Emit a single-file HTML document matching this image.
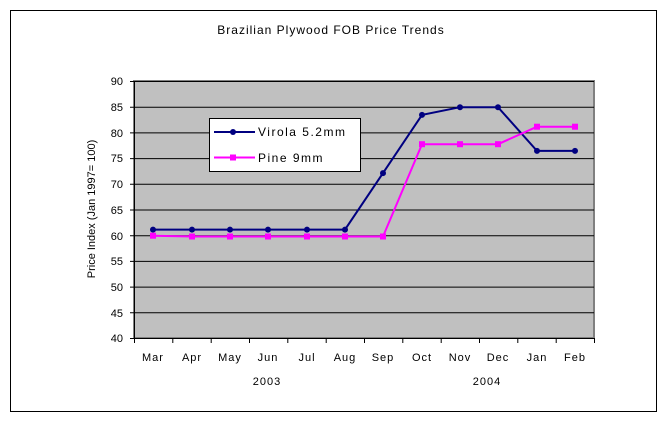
<!DOCTYPE html>
<html><head><style>body{margin:0;background:#fff}svg{display:block}</style></head><body>
<svg width="663" height="422" xmlns="http://www.w3.org/2000/svg" font-family="Liberation Sans, sans-serif" font-size="11">
<rect x="10.5" y="10.5" width="646" height="401" fill="#fff" stroke="#000"/>
<text x="331" y="34" text-anchor="middle" font-size="12" letter-spacing="1">Brazilian Plywood FOB Price Trends</text>
<rect x="134" y="81" width="460" height="257" fill="#c0c0c0" stroke="#808080" stroke-width="2"/>
<g stroke="#000" stroke-width="1">
<line x1="134" y1="81.5" x2="594" y2="81.5"/><line x1="134" y1="107.2" x2="594" y2="107.2"/><line x1="134" y1="132.9" x2="594" y2="132.9"/><line x1="134" y1="158.6" x2="594" y2="158.6"/><line x1="134" y1="184.3" x2="594" y2="184.3"/><line x1="134" y1="210" x2="594" y2="210"/><line x1="134" y1="235.7" x2="594" y2="235.7"/><line x1="134" y1="261.4" x2="594" y2="261.4"/><line x1="134" y1="287.1" x2="594" y2="287.1"/><line x1="134" y1="312.8" x2="594" y2="312.8"/>
<line x1="134.5" y1="81" x2="134.5" y2="338"/><line x1="134" y1="338.5" x2="594" y2="338.5"/>
<path d="M130 81.5h4M130 107.2h4M130 132.9h4M130 158.6h4M130 184.3h4M130 210h4M130 235.7h4M130 261.4h4M130 287.1h4M130 312.8h4M130 338.5h4"/>
<path d="M134.5 338v5M172.8 338v5M211.2 338v5M249.5 338v5M287.8 338v5M326.2 338v5M364.5 338v5M402.8 338v5M441.2 338v5M479.5 338v5M517.8 338v5M556.2 338v5M594.5 338v5"/>
</g>
<g text-anchor="end" font-size="11">
<text x="123" y="85">90</text><text x="123" y="111">85</text><text x="123" y="137">80</text><text x="123" y="162">75</text><text x="123" y="188">70</text><text x="123" y="214">65</text><text x="123" y="240">60</text><text x="123" y="265">55</text><text x="123" y="291">50</text><text x="123" y="317">45</text><text x="123" y="342">40</text>
</g>
<text transform="translate(95,209) rotate(-90)" text-anchor="middle" font-size="11">Price Index (Jan 1997= 100)</text>
<g text-anchor="middle" font-size="11" letter-spacing="1">
<text x="153" y="361">Mar</text><text x="192" y="361">Apr</text><text x="230" y="361">May</text><text x="268" y="361">Jun</text><text x="307" y="361">Jul</text><text x="345" y="361">Aug</text><text x="383" y="361">Sep</text><text x="422" y="361">Oct</text><text x="460" y="361">Nov</text><text x="498" y="361">Dec</text><text x="537" y="361">Jan</text><text x="575" y="361">Feb</text>
<text x="267" y="385">2003</text><text x="487" y="385">2004</text>
</g>
<polyline fill="none" stroke="#000080" stroke-width="2" points="153,229.6 192,229.6 230,229.6 268,229.6 307,229.6 345,229.6 383,173.1 422,114.9 460,107.2 498,107.2 537,150.9 575,150.9"/>
<g fill="#000080">
<circle cx="153" cy="229.6" r="3"/><circle cx="192" cy="229.6" r="3"/><circle cx="230" cy="229.6" r="3"/><circle cx="268" cy="229.6" r="3"/><circle cx="307" cy="229.6" r="3"/><circle cx="345" cy="229.6" r="3"/><circle cx="383" cy="173.1" r="3"/><circle cx="422" cy="114.9" r="3"/><circle cx="460" cy="107.2" r="3"/><circle cx="498" cy="107.2" r="3"/><circle cx="537" cy="150.9" r="3"/><circle cx="575" cy="150.9" r="3"/>
</g>
<polyline fill="none" stroke="#ff00ff" stroke-width="2" points="153,235.7 192,236.5 230,236.5 268,236.5 307,236.5 345,236.5 383,236.5 422,144.2 460,144.2 498,144.2 537,126.7 575,126.7"/>
<g fill="#ff00ff">
<rect x="150" y="232.7" width="6" height="6"/><rect x="189" y="233.5" width="6" height="6"/><rect x="227" y="233.5" width="6" height="6"/><rect x="265" y="233.5" width="6" height="6"/><rect x="304" y="233.5" width="6" height="6"/><rect x="342" y="233.5" width="6" height="6"/><rect x="380" y="233.5" width="6" height="6"/><rect x="419" y="141.2" width="6" height="6"/><rect x="457" y="141.2" width="6" height="6"/><rect x="495" y="141.2" width="6" height="6"/><rect x="534" y="123.7" width="6" height="6"/><rect x="572" y="123.7" width="6" height="6"/>
</g>
<rect x="209.5" y="118.5" width="151" height="53" fill="#fff" stroke="#000"/>
<line x1="214" y1="132" x2="255" y2="132" stroke="#000080" stroke-width="2"/><circle cx="233" cy="132" r="3" fill="#000080"/>
<line x1="214" y1="157.5" x2="255" y2="157.5" stroke="#ff00ff" stroke-width="2"/><rect x="230" y="154.5" width="6" height="6" fill="#ff00ff"/>
<text x="258" y="136" font-size="12" letter-spacing="1.5">Virola 5.2mm</text>
<text x="258" y="162" font-size="12" letter-spacing="1.5">Pine 9mm</text>
</svg>
</body></html>
